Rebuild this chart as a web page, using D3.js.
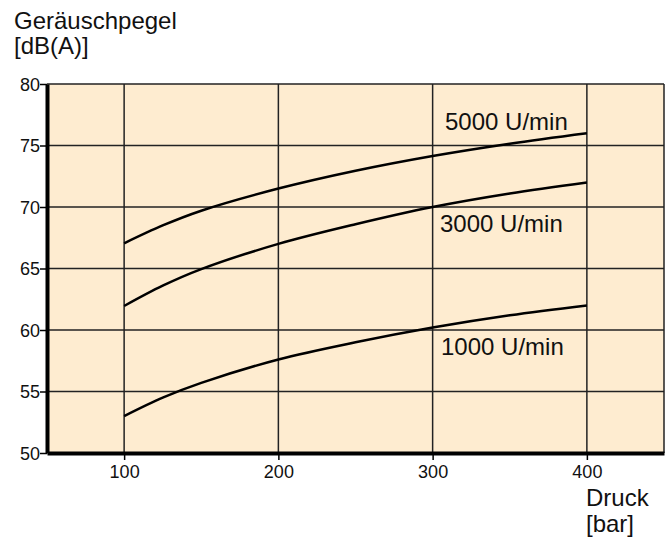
<!DOCTYPE html>
<html><head><meta charset="utf-8">
<script src="https://cdn.jsdelivr.net/npm/d3@7"></script>
<style>body{margin:0;background:#fff;}svg{display:block;font-family:"Liberation Sans",Arial,sans-serif;}</style>
</head><body><svg id="c" width="670" height="537"></svg>
<script>
const pressure = [100, 125, 150, 200, 250, 300, 350, 400];
const rpm5000 = [67.05, 68.5, 69.7, 71.5, 72.95, 74.15, 75.15, 76.0];
const rpm3000 = [61.95, 63.6, 64.95, 67.0, 68.6, 70.0, 71.1, 72.0];
const rpm1000 = [53.0, 54.5, 55.7, 57.6, 59.0, 60.2, 61.2, 62.0];
const seriesLabels = ["5000 U/min", "3000 U/min", "1000 U/min"];
const xTicks = [100, 200, 300, 400];
const yTicks = [50, 55, 60, 65, 70, 75, 80];

const svg = d3.select("#c");
const x = d3.scaleLinear().domain([50, 450]).range([47, 664]);
const y = d3.scaleLinear().domain([50, 80]).range([453, 84]);

svg.append("rect").attr("x", x(50)).attr("y", y(80)).attr("width", x(450)-x(50)).attr("height", y(50)-y(80)).attr("fill", "#feecd0");

// grid
svg.append("g").selectAll("line").data(xTicks).join("line")
  .attr("x1", d=>x(d)).attr("x2", d=>x(d)).attr("y1", y(80)).attr("y2", y(50))
  .attr("stroke", "#222").attr("stroke-width", 1.5);
svg.append("g").selectAll("line").data(yTicks.filter(d=>d>50)).join("line")
  .attr("x1", x(50)).attr("x2", x(450)).attr("y1", d=>y(d)).attr("y2", d=>y(d))
  .attr("stroke", "#222").attr("stroke-width", 1.5);
svg.append("line").attr("x1", x(450)).attr("x2", x(450)).attr("y1", y(80)).attr("y2", y(50)).attr("stroke","#222").attr("stroke-width",1.5);

// axes
const xAxis = svg.append("g").attr("transform", `translate(0,${y(50)})`)
  .call(d3.axisBottom(x).tickValues(xTicks).tickSize(7).tickSizeOuter(0));
const yAxis = svg.append("g").attr("transform", `translate(${x(50)},0)`)
  .call(d3.axisLeft(y).tickValues(yTicks).tickSize(7).tickSizeOuter(0));
[xAxis, yAxis].forEach(a=>{
  a.attr("font-size", 18).attr("font-family", "Liberation Sans, Arial, sans-serif");
  a.select(".domain").attr("stroke", "#000").attr("stroke-width", 4);
  a.selectAll(".tick line").attr("stroke", "#000").attr("stroke-width", 1.5);
  a.selectAll(".tick text").attr("fill", "#111");
});
xAxis.selectAll(".tick text").attr("y", 25).attr("dy", 0);
yAxis.selectAll(".tick text").attr("x", -7).attr("dy", "0.36em");

// curves
const line = d3.line().x((d,i)=>x(pressure[i])).y(d=>y(d)).curve(d3.curveCatmullRom.alpha(0.5));
[rpm5000, rpm3000, rpm1000].forEach(s=>{
  svg.append("path").attr("d", line(s)).attr("fill","none").attr("stroke","#000").attr("stroke-width",2.5);
});

// labels
const labPos = [[445,130],[440,232],[441,355]];
svg.append("g").selectAll("text").data(seriesLabels).join("text")
  .attr("x",(d,i)=>labPos[i][0]).attr("y",(d,i)=>labPos[i][1])
  .attr("font-size",24).attr("fill","#111").text(d=>d);

svg.append("text").attr("x",14).attr("y",29).attr("font-size",24).attr("fill","#111").text("Geräuschpegel");
svg.append("text").attr("x",14).attr("y",54).attr("font-size",24).attr("fill","#111").text("[dB(A)]");
svg.append("text").attr("x",586).attr("y",506).attr("font-size",24).attr("fill","#111").text("Druck");
svg.append("text").attr("x",586).attr("y",532).attr("font-size",24).attr("fill","#111").text("[bar]");
</script></body></html>
